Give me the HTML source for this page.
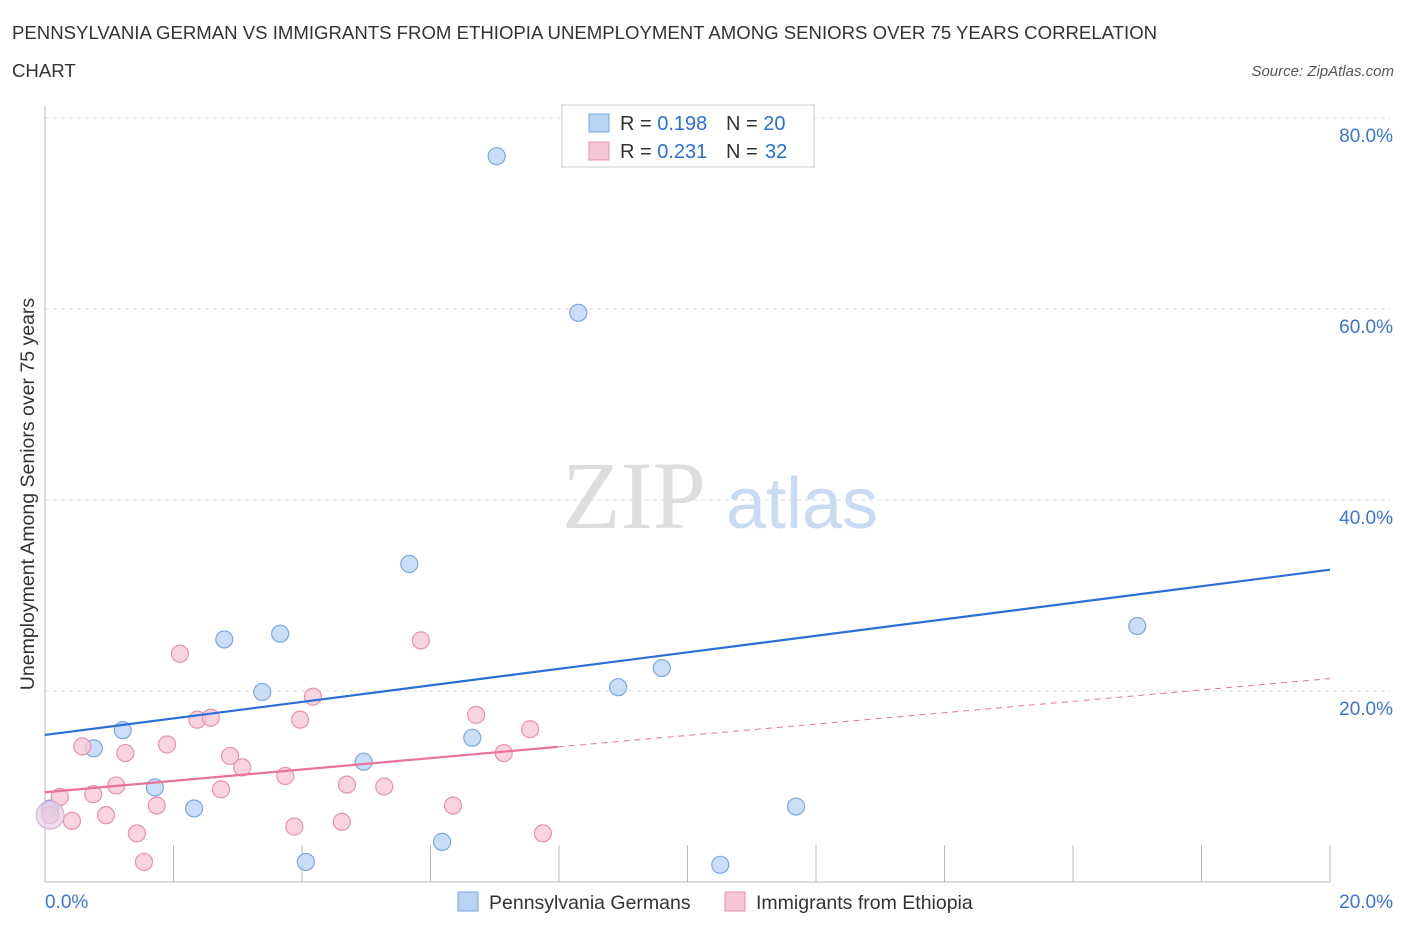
<!DOCTYPE html>
<html><head><meta charset="utf-8"><style>
body{margin:0;background:#fff;font-family:"Liberation Sans",sans-serif;}
</style></head><body>
<svg id="c" width="1406" height="930" font-family="Liberation Sans, sans-serif">
<text x="12" y="39" font-size="18.6" fill="#333">PENNSYLVANIA GERMAN VS IMMIGRANTS FROM ETHIOPIA UNEMPLOYMENT AMONG SENIORS OVER 75 YEARS CORRELATION</text>
<text x="12" y="77" font-size="18.6" fill="#333">CHART</text>
<text x="1394" y="76" font-size="15" fill="#555" font-style="italic" text-anchor="end">Source: ZipAtlas.com</text>
<text x="634" y="528" font-size="96" fill="#ddd" font-family="Liberation Serif, serif" text-anchor="middle">ZIP</text>
<text x="802" y="528" font-size="72" fill="#c9dbf3" text-anchor="middle">atlas</text>
<text transform="translate(34,494) rotate(-90)" font-size="19.5" fill="#333" text-anchor="middle">Unemployment Among Seniors over 75 years</text>
<g id="grid"></g><g id="marks"></g>
<g>
<rect x="562" y="105" width="252" height="62" fill="#fff" stroke="#ccc"/>
<rect x="589" y="114" width="20" height="18" fill="#b9d3f5" stroke="#7ba6e0"/>
<rect x="589" y="142" width="20" height="18" fill="#f7c6d4" stroke="#e891ab"/>
<text x="620" y="130" font-size="20" fill="#333">R = <tspan fill="#2a6fd6">0.198</tspan></text>
<text x="726" y="130" font-size="20" fill="#333">N = <tspan fill="#2a6fd6">20</tspan></text>
<text x="620" y="158" font-size="20" fill="#333">R = <tspan fill="#2a6fd6">0.231</tspan></text>
<text x="726" y="158" font-size="20" fill="#333">N = </text>
<text x="765" y="158" font-size="20" fill="#2a6fd6">32</text>
</g>
<g>
<rect x="458" y="892" width="20" height="19" fill="#b9d3f5" stroke="#7ba6e0"/>
<text x="489" y="909" font-size="19.5" fill="#333">Pennsylvania Germans</text>
<rect x="725" y="892" width="20" height="19" fill="#f7c6d4" stroke="#e891ab"/>
<text x="756" y="909" font-size="19.5" fill="#333">Immigrants from Ethiopia</text>
</g>
</svg>
<script>
const yTicks=[20,40,60,80];
const xTickLabels=["0.0%","20.0%"];
const blueX=[7.03,8.30,5.67,17.0,3.66,2.79,3.38,9.60,8.92,1.21,0.76,6.65,4.96,1.71,2.32,11.69,6.18,4.06,10.51,0.08];
const blueY=[76.0,59.6,33.3,26.8,26.0,25.4,19.9,22.4,20.4,15.9,14.0,15.1,12.6,9.9,7.7,7.9,4.2,2.1,1.8,7.7];
const pinkX=[2.10,5.85,4.17,2.37,2.58,3.97,6.71,7.55,0.58,1.25,1.90,7.14,2.88,3.07,3.74,1.11,4.70,5.28,0.75,2.74,1.74,6.35,0.95,0.42,0.23,0.08,4.62,3.88,1.43,7.75,1.54,3.17];
const pinkY=[23.9,25.3,19.4,17.0,17.2,17.0,17.5,16.0,14.2,13.5,14.4,13.5,13.2,12.0,11.1,10.1,10.2,10.0,9.2,9.7,8.0,8.0,7.0,6.4,8.9,7.0,6.3,5.8,5.1,5.1,2.1,2.1];
const blueTrend=[15.4,32.7];
const pinkTrend=[9.4,21.3];
const pinkSolidEnd=7.98;
const X=v=>45+v/20*1285, Y=v=>882-v/20*191;
const NS="http://www.w3.org/2000/svg";
function mk(t,a,p){const e=document.createElementNS(NS,t);for(const k in a)e.setAttribute(k,a[k]);p.appendChild(e);return e;}
const g=document.getElementById('grid'),m=document.getElementById('marks');
yTicks.forEach(t=>{
 const l=mk('line',{x1:45,x2:1390,y1:Y(t),y2:Y(t),stroke:'#ddd','stroke-dasharray':'4,4'},g);
 
 
 const tx=mk('text',{x:1393,y:Y(t)+24,'font-size':19,fill:'#3a75d0','text-anchor':'end'},g);
 tx.textContent=t.toFixed(1)+'%';
 
 
});
const ax=mk('line',{x1:45,x2:1330,y1:882,y2:882,stroke:'#bbb'},g);


const ay=mk('line',{x1:45,x2:45,y1:105,y2:882,stroke:'#bbb'},g);


for(let i=0;i<=10;i++){const tk=mk('line',{x1:X(i*2),x2:X(i*2),y1:845,y2:882,stroke:'#bbb'},g);
 
 }
xTickLabels.forEach((s,i)=>{const tx=mk('text',{x:i?1393:45,y:908,'font-size':19,fill:'#3a75d0','text-anchor':i?'end':'start'},g);tx.textContent=s;
 
 });
function dots(xs,ys,fill,st,name){xs.forEach((x,i)=>{const c=mk('circle',{cx:X(x),cy:Y(ys[i]),r:i==xs.length-1&&name=='pink'?0:8.5,fill:fill,stroke:st,'stroke-width':1.2,'fill-opacity':0.75},m);
 
 });}
dots(blueX,blueY,'#b9d3f5','#7ba6e0','blue');
dots(pinkX,pinkY,'#f7c6d4','#e891ab','pink');
const big=mk('circle',{cx:X(0.08),cy:Y(7.0),r:14,fill:'#e6cde6',stroke:'#d6a9c9','fill-opacity':0.7},m);


const bl=mk('line',{x1:X(0),y1:Y(blueTrend[0]),x2:X(20),y2:Y(blueTrend[1]),stroke:'#2a6fd6','stroke-width':2.2},m);


const py=x=>pinkTrend[0]+(pinkTrend[1]-pinkTrend[0])*x/20;
const pl=mk('line',{x1:X(0),y1:Y(pinkTrend[0]),x2:X(pinkSolidEnd),y2:Y(py(pinkSolidEnd)),stroke:'#e8729a','stroke-width':2.2},m);


const pd=mk('line',{x1:X(pinkSolidEnd),y1:Y(py(pinkSolidEnd)),x2:X(20),y2:Y(pinkTrend[1]),stroke:'#e8729a','stroke-width':1,'stroke-dasharray':'6,5'},m);


</script>
</body></html>
